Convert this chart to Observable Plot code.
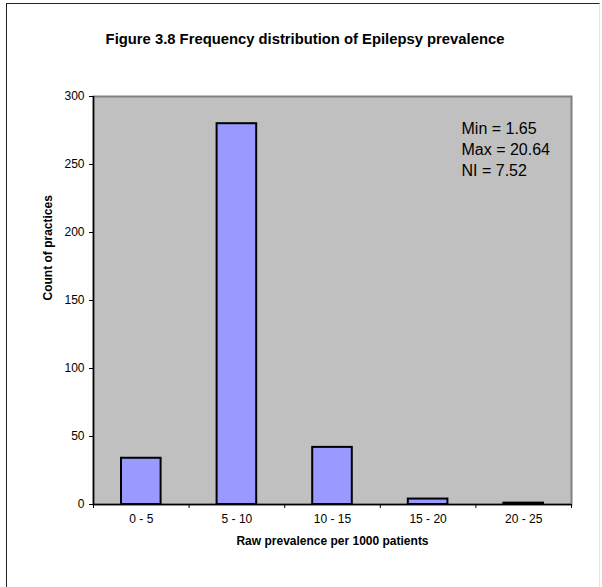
<!DOCTYPE html>
<html>
<head>
<meta charset="utf-8">
<script src="https://cdn.jsdelivr.net/npm/d3@7"></script>
<script src="https://cdn.jsdelivr.net/npm/@observablehq/plot@0.6"></script>
<style>
  html, body { margin: 0; padding: 0; background: #fff; }
  #wrap { position: relative; width: 602px; height: 587px; overflow: hidden; font-family: "Liberation Sans", Arial, sans-serif; }
  #border { position: absolute; left: 6px; top: 3px; width: 594px; height: 600px; border-left: 1.5px solid #222; border-top: 1.5px solid #222; border-right: 1px solid #e4e4e4; box-sizing: border-box; }
  #title { position: absolute; left: 4px; top: 31px; width: 602px; text-align: center; font-weight: bold; font-size: 14.8px; line-height: 16px; color: #000; white-space: nowrap; }
  #chart { position: absolute; left: 0; top: 0; }
</style>
</head>
<body>
<div id="wrap">
  <div id="border"></div>
  <div id="title"></div>
  <div id="chart"></div>
</div>
<script>
const titleText = "Figure 3.8 Frequency distribution of Epilepsy prevalence";
const categories = ["0 - 5", "5 - 10", "10 - 15", "15 - 20", "20 - 25"];
const binLow = [0, 5, 10, 15, 20];
const binHigh = [5, 10, 15, 20, 25];
const counts = [34, 280, 42, 4, 1];
const yTicks = [0, 50, 100, 150, 200, 250, 300];
const xEdges = [0, 5, 10, 15, 20, 25];
const yLabel = "Count of practices";
const xLabel = "Raw prevalence per 1000 patients";
const annotation = ["Min = 1.65", "Max = 20.64", "NI = 7.52"];

const data = categories.map((c, i) => ({label: c, lo: binLow[i], hi: binHigh[i], count: counts[i]}));

document.getElementById("title").textContent = titleText;

const font = '"Liberation Sans", Arial, sans-serif';

const chart = Plot.plot({
  width: 602,
  height: 587,
  marginLeft: 93,
  marginRight: 31,
  marginTop: 96,
  marginBottom: 83,
  style: {fontFamily: font, background: "transparent", color: "#000", overflow: "visible"},
  x: {type: "linear", domain: [0, 25], axis: null},
  y: {domain: [0, 300], axis: null},
  marks: [
    Plot.frame({fill: "#c0c0c0", stroke: "#808080", strokeWidth: 2}),
    Plot.rectY(data, {x1: "lo", x2: "hi", y: "count", fill: "#9999ff", stroke: "#000", strokeWidth: 2, insetLeft: 28, insetRight: 28}),
    Plot.ruleX([0], {stroke: "#000", strokeWidth: 1.5}),
    Plot.ruleY([0], {stroke: "#000", strokeWidth: 1.5}),
    Plot.axisY({ticks: yTicks, tickSize: 4, tickPadding: 5, fontSize: 12, label: null, stroke: "#000"}),
    Plot.axisX({ticks: xEdges, tickSize: 4, tickFormat: () => "", label: null, stroke: "#000"}),
    Plot.text(data, {x: d => (d.lo + d.hi) / 2, text: "label", frameAnchor: "bottom", dy: 18, fontSize: 12, fill: "#000"}),
    Plot.text([xLabel], {frameAnchor: "bottom", dy: 40, fontSize: 12, fontWeight: "bold", fill: "#000"}),
    Plot.text([yLabel], {frameAnchor: "left", dx: -45, rotate: -90, fontSize: 12, fontWeight: "bold", fill: "#000"}),
    Plot.text([annotation.join("\n")], {frameAnchor: "top-right", textAnchor: "start", lineAnchor: "top", dx: -110, dy: 23, fontSize: 16, lineHeight: 1.31, fill: "#000"})
  ]
});
document.getElementById("chart").appendChild(chart);
</script>
</body>
</html>
